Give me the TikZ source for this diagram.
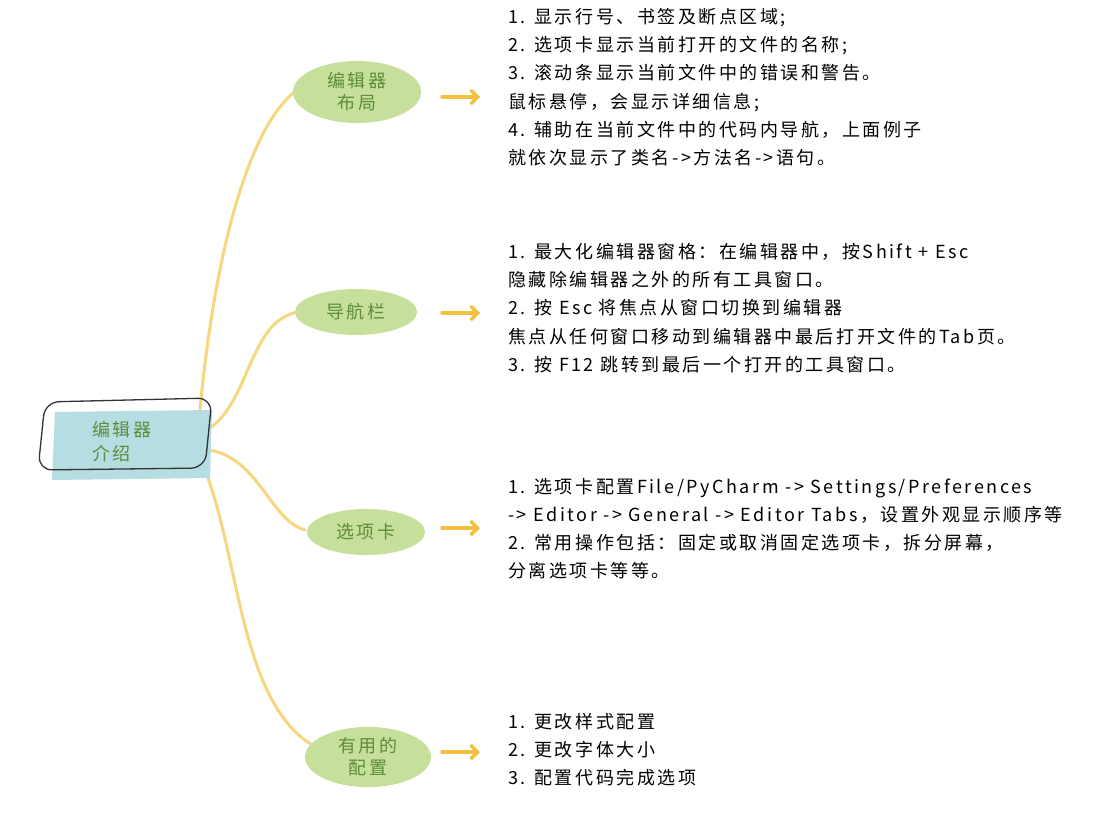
\documentclass[tikz,border=0pt]{standalone}
\usepackage{fontspec}
\setmainfont{Noto Sans CJK SC}
\newfontfamily\spaced[LetterSpace=14]{Noto Sans CJK SC}
\usetikzlibrary{shapes.geometric,arrows.meta}
\definecolor{leaf}{HTML}{C6E09C}
\definecolor{leaftext}{HTML}{5E8C3A}
\definecolor{branch}{HTML}{F8D67E}
\definecolor{arr}{HTML}{F4C040}
\definecolor{core}{HTML}{B5DDE2}
\tikzset{
  x=1pt,y=-1pt,
  leafnode/.style={ellipse,fill=leaf,text=leaftext,font=\spaced\fontsize{18}{22}\selectfont,align=center,inner sep=2pt},
  txt/.style={anchor=north west,align=left,font=\spaced\fontsize{18}{28.2}\selectfont,inner sep=0pt},
  br/.style={branch,line width=3pt,line cap=round},
  ar/.style={arr,line width=3.5pt,line cap=round,-{Straight Barb[length=7pt,width=14pt]}}
}
\begin{document}
\begin{tikzpicture}
\useasboundingbox[fill=white] (0,0) rectangle (1098,830);
% branches
\draw[br] (200,410) .. controls (215,250) and (250,120) .. (300,88);
\draw[br] (210,428) .. controls (250,400) and (250,320) .. (298,312);
\draw[br] (210,450) .. controls (260,460) and (270,520) .. (305,530);
\draw[br] (205,470) .. controls (240,560) and (240,700) .. (312,745);
% center
\fill[core] (55,412) -- (212,410) -- (210,478) -- (52,480) -- cycle;
\draw[black!80,line width=1.3pt,rounded corners=14pt] (45,402) -- (212,398) -- (205,468) -- (38,470) -- cycle;
\node[text=leaftext,font=\spaced\fontsize{18}{24}\selectfont,align=left] (c) at (122,442) {编辑器\\介绍};
% leaves
\node[leafnode,minimum width=128pt,minimum height=62pt] (l1) at (357,92) {编辑器\\布局};
\node[leafnode,minimum width=122pt,minimum height=46pt] (l2) at (356,312) {导航栏};
\node[leafnode,minimum width=118pt,minimum height=46pt] (l3) at (366,532) {选项卡};
\node[leafnode,minimum width=126pt,minimum height=56pt] (l4) at (368,757) {有用的\\配置};
% arrows
\coordinate (a1s) at (442,97); \coordinate (a1e) at (480,97);
\coordinate (a2s) at (442,313); \coordinate (a2e) at (480,313);
\coordinate (a3s) at (442,528); \coordinate (a3e) at (480,528);
\coordinate (a4s) at (442,752); \coordinate (a4e) at (480,752);
\draw[ar] (a1s) -- (a1e);
\draw[ar] (a2s) -- (a2e);
\draw[ar] (a3s) -- (a3e);
\draw[ar] (a4s) -- (a4e);
% texts
\node[txt] (t1) at (508,8) {1. 显示行号、书签及断点区域;\\2. 选项卡显示当前打开的文件的名称;\\3. 滚动条显示当前文件中的错误和警告。\\鼠标悬停，会显示详细信息;\\4. 辅助在当前文件中的代码内导航，上面例子\\就依次显示了类名->方法名->语句。};
\node[txt] (t2) at (508,243) {1. 最大化编辑器窗格：在编辑器中，按Shift + Esc\\隐藏除编辑器之外的所有工具窗口。\\2. 按 Esc 将焦点从窗口切换到编辑器\\焦点从任何窗口移动到编辑器中最后打开文件的Tab页。\\3. 按 F12 跳转到最后一个打开的工具窗口。};
\node[txt] (t3) at (508,478) {1. 选项卡配置File/PyCharm -> Settings/Preferences\\-> Editor -> General -> Editor Tabs，设置外观显示顺序等\\2. 常用操作包括：固定或取消固定选项卡，拆分屏幕，\\分离选项卡等等。};
\node[txt] (t4) at (508,713) {1. 更改样式配置\\2. 更改字体大小\\3. 配置代码完成选项};
\end{tikzpicture}
\end{document}
